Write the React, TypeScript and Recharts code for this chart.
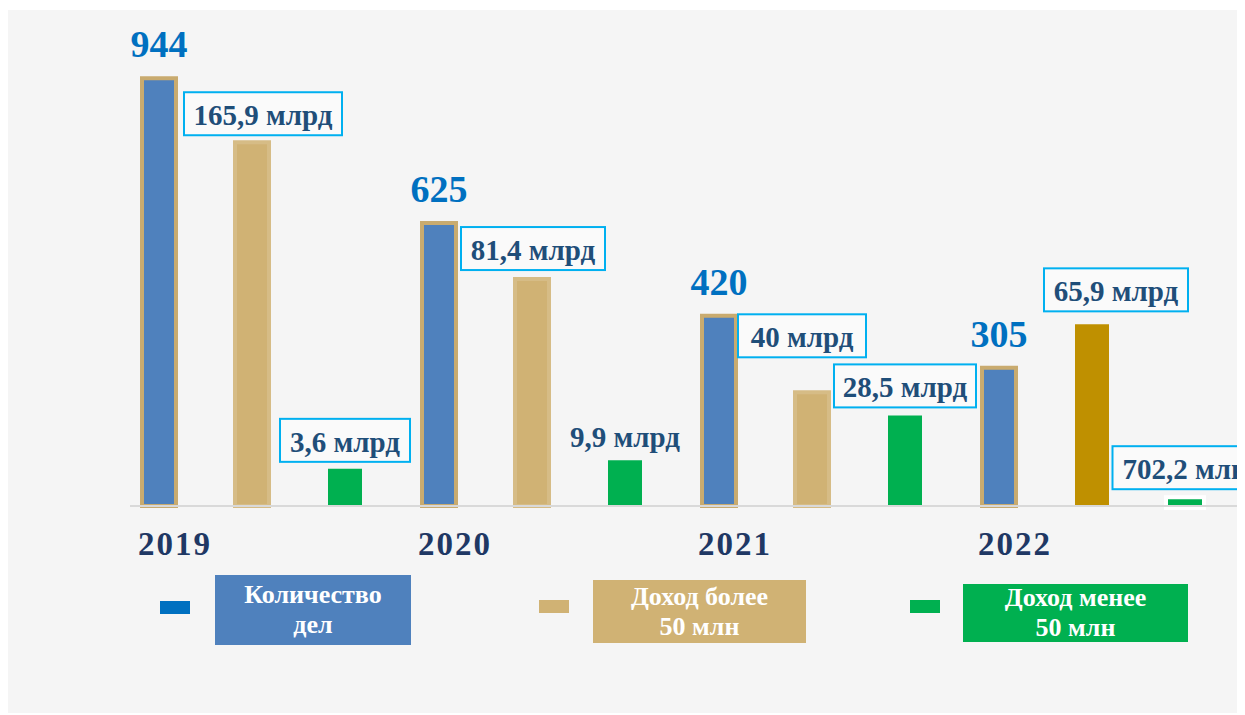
import { BarChart, Bar, XAxis, YAxis, Cell, LabelList, Legend, ReferenceLine } from "recharts"

const years = ["2019", "2020", "2021", "2022"]
const caseCount = [944, 625, 420, 305]
// the income bars in the source are not drawn to the scale of their labels,
// so their heights are read off the picture in the same units as the case count
const incomeAboveHeight = [803, 501, 251, 401]
const incomeBelowHeight = [82, 101, 200, 15]
const incomeAboveLabels = ["165,9 млрд", "81,4 млрд", "40 млрд", "65,9 млрд"]
const incomeBelowLabels = ["3,6 млрд", "9,9 млрд", "28,5 млрд", "702,2 млн"]
const seriesNames = ["Количество\nдел", "Доход более\n50 млн", "Доход менее\n50 млн"]

const serif = '"Liberation Serif", "Times New Roman", serif'

// label placement tweaks (box offset from bar centre, gap above bar, box width)
const aboveBoxes = [
  { dx: 11, gap: 7, w: 158, boxed: true },
  { dx: 1, gap: 9, w: 144, boxed: true },
  { dx: -10, gap: 35, w: 128, boxed: true },
  { dx: 24, gap: 13, w: 144, boxed: true },
]
const belowBoxes = [
  { dx: 0, gap: 7, w: 130, boxed: true },
  { dx: 0, gap: 3, w: 130, boxed: false },
  { dx: 0, gap: 8, w: 142, boxed: true },
  { dx: 0, gap: 10, w: 145, boxed: true },
]
const aboveFills = ["#d0b274", "#d0b274", "#d0b274", "#bf9000"]
const legendMarkers = ["#0070c0", "#d0b274", "#00b050"]
const legendBoxes = [
  { marker: { left: 152, top: 26 }, box: { left: 207, top: 0, width: 196, height: 70 }, fill: "#4f81bd" },
  { marker: { left: 531, top: 25 }, box: { left: 585, top: 5, width: 213, height: 63 }, fill: "#d0b274" },
  { marker: { left: 902, top: 25 }, box: { left: 955, top: 9, width: 225, height: 58 }, fill: "#00b050" },
]

const data = years.map((year, i) => ({
  year,
  count: caseCount[i],
  above: incomeAboveHeight[i],
  below: incomeBelowHeight[i],
  aboveLabel: incomeAboveLabels[i],
  belowLabel: incomeBelowLabels[i],
}))

function CountLabel(props: any) {
  const x = Number(props.x)
  const y = Number(props.y)
  const w = Number(props.width)
  return (
    <text x={x + w / 2} y={y - 21} textAnchor="middle" fill="#0070c0" fontSize={38} fontWeight="bold" fontFamily={serif}>
      {props.value}
    </text>
  )
}

function boxedLabel(boxes: typeof aboveBoxes) {
  return (props: any) => {
    const b = boxes[props.index]
    if (!b) return null
    const cx = Number(props.x) + Number(props.width) / 2 + b.dx
    const bottom = Number(props.y) - b.gap
    const h = 43
    return (
      <g>
        {b.boxed && (
          <rect x={cx - b.w / 2} y={bottom - h} width={b.w} height={h} fill="#fafafa" stroke="#00b0f0" strokeWidth={2} />
        )}
        <text x={cx} y={bottom - 10} textAnchor="middle" fill="#1f4e79" fontSize={29} fontWeight="bold" fontFamily={serif}>
          {props.value}
        </text>
      </g>
    )
  }
}

function YearTick(props: any) {
  const { x, y, payload } = props
  return (
    <text x={x - 77} y={y + 41} textAnchor="middle" fill="#1f3864" fontSize={33} fontWeight="bold" letterSpacing={2} fontFamily={serif}>
      {payload.value}
    </text>
  )
}

function BaseLine(props: any) {
  const { x1, x2, y1 } = props
  return <line x1={x1 + 18} x2={x2 + 13} y1={y1} y2={y1} stroke="#d9d9d9" strokeWidth={2} />
}

function renderLegend(props: any) {
  const payload = props.payload || []
  return (
    <div style={{ position: "relative", width: 1237, height: 75, fontFamily: serif }}>
      {payload.map((entry: any) => {
        const i = seriesNames.indexOf(entry.value)
        const l = legendBoxes[i]
        if (!l) return null
        return (
          <div key={i}>
            <div style={{ position: "absolute", left: l.marker.left, top: l.marker.top, width: 30, height: 13, background: legendMarkers[i] }} />
            <div
              style={{
                position: "absolute",
                ...l.box,
                background: l.fill,
                color: "#ffffff",
                fontWeight: "bold",
                fontSize: 26,
                lineHeight: "30px",
                textAlign: "center",
                whiteSpace: "pre-line",
                display: "flex",
                alignItems: "center",
                justifyContent: "center",
              }}
            >
              {entry.value}
            </div>
          </div>
        )
      })}
    </div>
  )
}

export default function App() {
  return (
    <div style={{ position: "relative", top: 2, width: 1237, height: 705, background: "#f5f5f5" }}>
      <BarChart
        width={1237}
        height={705}
        data={data}
        margin={{ top: 43, right: 13, left: 104, bottom: 149 }}
        barSize={34}
        barGap={59}
      >
        <XAxis dataKey="year" height={60} axisLine={false} tickLine={false} tick={<YearTick />} interval={0} />
        <YAxis hide domain={[0, 1000]} />
        <ReferenceLine y={0} shape={<BaseLine />} />
        <Bar dataKey="count" name={seriesNames[0]} fill="#4f81bd" stroke="#c9ab6f" strokeWidth={4} isAnimationActive={false}>
          <LabelList dataKey="count" content={<CountLabel />} />
        </Bar>
        <Bar dataKey="above" name={seriesNames[1]} fill="#d0b274" isAnimationActive={false}>
          {data.map((_, i) => (
            <Cell key={i} fill={aboveFills[i]} stroke={i === 3 ? "none" : "#d6bc86"} strokeWidth={4} />
          ))}
          <LabelList dataKey="aboveLabel" content={boxedLabel(aboveBoxes)} />
        </Bar>
        <Bar dataKey="below" name={seriesNames[2]} fill="#00b050" isAnimationActive={false}>
          {data.map((_, i) => (
            <Cell key={i} fill="#00b050" stroke={i === 3 ? "#ffffff" : "none"} strokeWidth={8} paintOrder="stroke" />
          ))}
          <LabelList dataKey="belowLabel" content={boxedLabel(belowBoxes)} />
        </Bar>
        <Legend
          layout="horizontal"
          verticalAlign="middle"
          align="center"
          wrapperStyle={{ top: 565, left: 0, width: 1237 }}
          content={renderLegend}
        />
      </BarChart>
    </div>
  )
}
